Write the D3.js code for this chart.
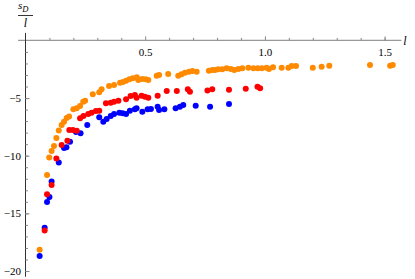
<!DOCTYPE html>
<html>
<head>
<meta charset="utf-8">
<script src="https://cdn.jsdelivr.net/npm/d3@7"></script>
<style>
    body { margin: 0; background: #fff; }
    text { font-family: "Liberation Serif", "DejaVu Serif", serif; }
</style>
</head>
<body>
<svg id="chart"></svg>
<script>
// data
var orangeX = [0.059, 0.090, 0.099, 0.109, 0.119, 0.129, 0.139, 0.151, 0.161, 0.172, 0.182, 0.200, 0.214, 0.228, 0.241, 0.249, 0.281, 0.308, 0.318, 0.349, 0.370, 0.395, 0.407, 0.420, 0.434, 0.448, 0.465, 0.471, 0.488, 0.502, 0.513, 0.548, 0.558, 0.596, 0.638, 0.652, 0.666, 0.683, 0.697, 0.715, 0.766, 0.780, 0.792, 0.805, 0.822, 0.840, 0.858, 0.872, 0.889, 0.906, 0.931, 0.952, 0.970, 0.987, 1.007, 1.017, 1.034, 1.070, 1.098, 1.112, 1.130, 1.200, 1.237, 1.269, 1.439, 1.523, 1.534]
var orangeY = [-18.15, -11.67, -10.16, -9.59, -9.16, -8.46, -7.81, -7.34, -7.05, -6.73, -6.60, -5.98, -5.89, -5.69, -5.32, -5.23, -4.67, -4.50, -4.24, -3.95, -3.87, -3.67, -3.61, -3.50, -3.37, -3.29, -3.20, -3.43, -3.35, -3.37, -3.43, -3.06, -3.00, -2.91, -3.06, -2.94, -2.80, -2.71, -2.65, -2.71, -2.63, -2.57, -2.57, -2.51, -2.51, -2.42, -2.48, -2.57, -2.48, -2.42, -2.37, -2.42, -2.42, -2.42, -2.37, -2.48, -2.33, -2.37, -2.37, -2.22, -2.22, -2.37, -2.28, -2.19, -2.13, -2.19, -2.13]
var redX = [0.080, 0.090, 0.109, 0.129, 0.151, 0.175, 0.183, 0.198, 0.214, 0.228, 0.242, 0.262, 0.276, 0.294, 0.308, 0.336, 0.356, 0.370, 0.388, 0.420, 0.439, 0.457, 0.464, 0.485, 0.499, 0.513, 0.552, 0.590, 0.632, 0.678, 0.687, 0.760, 0.780, 0.850, 0.920, 0.969, 0.980]
var redY = [-16.49, -13.34, -12.54, -10.24, -9.07, -8.70, -7.77, -7.77, -7.83, -6.76, -6.56, -6.38, -6.27, -6.12, -6.10, -5.46, -5.40, -5.32, -5.23, -5.11, -4.82, -4.74, -4.97, -4.80, -4.88, -4.97, -4.80, -4.39, -4.39, -4.24, -4.45, -4.35, -4.23, -4.28, -4.19, -4.02, -4.15]
var blueX = [0.059, 0.080, 0.090, 0.100, 0.109, 0.139, 0.161, 0.171, 0.186, 0.211, 0.230, 0.258, 0.308, 0.325, 0.339, 0.356, 0.370, 0.392, 0.406, 0.420, 0.436, 0.457, 0.464, 0.488, 0.510, 0.524, 0.552, 0.558, 0.580, 0.627, 0.645, 0.659, 0.711, 0.771, 0.850]
var blueY = [-18.70, -16.24, -14.02, -13.58, -12.24, -10.59, -9.33, -9.27, -8.79, -7.95, -8.06, -7.34, -6.67, -7.05, -6.82, -6.56, -6.38, -6.27, -6.32, -6.38, -6.10, -5.98, -5.89, -6.18, -5.98, -5.95, -5.75, -6.04, -5.98, -5.89, -5.75, -5.60, -5.66, -5.75, -5.52]

var xMajor = [0.5, 1.0, 1.5]
var xMinor = [0.1, 0.2, 0.3, 0.4, 0.6, 0.7, 0.8, 0.9, 1.1, 1.2, 1.3, 1.4, 1.5]
var yMajor = [-5, -10, -15, -20]
var yMinor = d3.range(-1, -21, -1)

var width = 415,
    height = 279
var svg = d3.select("#chart")
    .attr("width", width)
    .attr("height", height)

var x = d3.scaleLinear().domain([0, 1.5]).range([25.5, 384.6])
var y = d3.scaleLinear().domain([0, -20]).range([40.4, 271])

// axis lines
svg.append("line")
    .attr("x1", x(-0.031)).attr("x2", x(1.57))
    .attr("y1", y(0)).attr("y2", y(0))
    .attr("stroke", "#999").attr("stroke-width", 1.2)
svg.append("line")
    .attr("x1", x(0)).attr("x2", x(0))
    .attr("y1", y(0.65)).attr("y2", y(-20.5))
    .attr("stroke", "#333").attr("stroke-width", 1)

// x ticks: pointing up, labels below
var gxMinor = svg.append("g")
    .attr("transform", "translate(0," + y(0) + ")")
    .call(d3.axisBottom(x).tickValues(xMinor).tickSize(-2.5).tickFormat(""))
var gx = svg.append("g")
    .attr("transform", "translate(0," + y(0) + ")")
    .call(d3.axisBottom(x).tickValues(xMajor).tickSize(-4).tickPadding(8).tickFormat(d3.format(".1f")))

// y ticks: pointing right, labels left
var gyMinor = svg.append("g")
    .attr("transform", "translate(" + x(0) + ",0)")
    .call(d3.axisLeft(y).tickValues(yMinor).tickSize(-2.5).tickFormat(""))
var gy = svg.append("g")
    .attr("transform", "translate(" + x(0) + ",0)")
    .call(d3.axisLeft(y).tickValues(yMajor).tickSize(-4).tickPadding(4.5))

svg.selectAll(".domain").remove()
svg.selectAll(".tick line").attr("stroke", "#888")
svg.selectAll(".tick text")
    .attr("fill", "#000")
    .style("font-family", "'Liberation Serif', serif")
    .style("font-size", "11px")

// points
var series = [
    { xs: blueX, ys: blueY, color: "#0000ff" },
    { xs: redX, ys: redY, color: "#ff0000" },
    { xs: orangeX, ys: orangeY, color: "#ff8a00" }
]
series.forEach(function (s) {
    svg.append("g")
        .selectAll("circle")
        .data(d3.range(s.xs.length))
        .enter().append("circle")
        .attr("cx", function (i) { return x(s.xs[i]) })
        .attr("cy", function (i) { return y(s.ys[i]) })
        .attr("r", 3)
        .attr("fill", s.color)
})

// axis labels
svg.append("text")
    .attr("x", 405).attr("y", 45)
    .attr("text-anchor", "middle")
    .style("font-size", "12px").style("font-style", "italic")
    .text("l")

var ylab = svg.append("text")
    .attr("x", 18).attr("y", 9)
    .style("font-size", "11px").style("font-style", "italic")
ylab.append("tspan").text("s")
ylab.append("tspan").attr("dy", 3).style("font-size", "8.5px").text("D")
svg.append("line")
    .attr("x1", 18).attr("x2", 33)
    .attr("y1", 15.5).attr("y2", 15.5)
    .attr("stroke", "#000").attr("stroke-width", 0.8)
svg.append("text")
    .attr("x", 25.5).attr("y", 27)
    .attr("text-anchor", "middle")
    .style("font-size", "12px").style("font-style", "italic")
    .text("l")
</script>
</body>
</html>
